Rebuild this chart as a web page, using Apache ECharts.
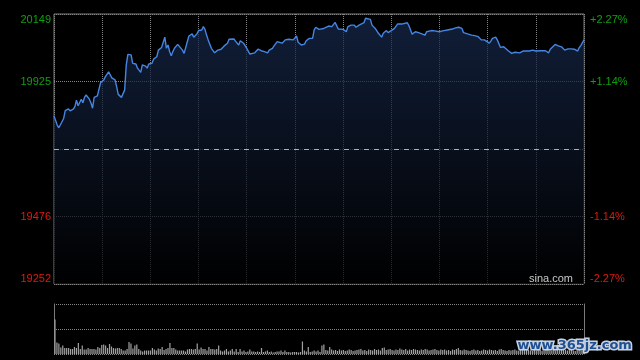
<!DOCTYPE html>
<html><head><meta charset="utf-8">
<script src="https://cdn.jsdelivr.net/npm/echarts@6/dist/echarts.min.js"></script>
<style>html,body{margin:0;padding:0;background:#000;}#c{width:640px;height:360px;}</style>
</head><body><div id="c"></div>
<script>
// minute of session (0..330) and index level
const minutes = [0,2,3,4,6,7,9,10,12,13,14,15,16,17,18,19,20,21,22,23,24,25,27,28,29,30,31,32,34,35,36,38,39,40,42,43,44,45,46,47,48,49,51,52,54,55,57,58,59,61,62,64,65,67,68,69,70,71,72,73,74,75,77,78,80,81,83,84,85,86,87,89,90,92,93,94,95,96,98,100,102,104,106,108,109,110,112,113,115,116,118,120,122,123,125,127,129,131,133,134,136,137,139,140,142,144,146,149,150,151,152,154,156,157,159,161,162,163,165,166,168,169,171,172,173,175,177,178,180,182,183,185,187,188,190,191,193,194,195,197,198,199,200,202,204,205,207,208,210,212,214,215,217,218,220,221,222,223,225,227,229,231,232,233,235,237,240,242,243,245,246,248,250,252,254,255,256,258,259,260,262,264,266,268,269,271,272,273,275,276,278,280,281,283,285,287,288,290,292,294,296,298,300,301,303,306,308,309,312,314,316,318,320,322,324,326,327,328,330];
const prices = [19810,19780,19771,19771,19802,19828,19834,19827,19833,19841,19863,19844,19847,19866,19854,19872,19880,19877,19866,19854,19836,19872,19877,19877,19921,19927,19930,19941,19957,19952,19937,19930,19908,19882,19872,19866,19897,19980,20015,20020,20013,19985,19983,19969,19955,19980,19976,19969,19983,19985,19999,20007,20029,20038,20038,20072,20035,20046,20024,20010,20024,20035,20048,20044,20029,20018,20057,20076,20079,20083,20072,20083,20094,20096,20107,20098,20079,20063,20035,20020,20029,20032,20043,20052,20065,20070,20066,20059,20046,20060,20052,20035,20016,20020,20020,20032,20027,20024,20020,20029,20035,20043,20057,20059,20052,20063,20065,20063,20068,20076,20055,20046,20049,20060,20068,20068,20096,20105,20098,20096,20101,20101,20109,20103,20107,20121,20099,20099,20098,20090,20107,20112,20112,20105,20112,20110,20120,20135,20138,20131,20112,20118,20101,20085,20072,20085,20094,20087,20094,20101,20116,20118,20116,20116,20120,20110,20105,20082,20090,20087,20083,20079,20090,20096,20094,20093,20090,20093,20096,20096,20090,20099,20103,20105,20101,20087,20082,20082,20085,20079,20077,20074,20063,20063,20060,20052,20059,20068,20072,20063,20038,20040,20035,20026,20018,20022,20020,20020,20026,20026,20026,20029,20026,20022,20027,20027,20020,20032,20048,20043,20040,20029,20033,20033,20032,20026,20037,20044,20063];
const volumes = [69,23,21,13,17,12,12,12,10,10,14,12,22,10,17,9,9,12,10,10,10,9,14,12,18,19,17,12,20,15,12,11,12,12,10,7,7,10,24,21,11,17,19,10,7,5,7,7,7,7,12,9,7,11,10,14,8,10,12,22,12,12,9,7,7,7,7,5,9,10,10,9,10,21,9,13,10,10,7,14,10,10,9,10,17,7,5,7,10,5,7,10,5,10,4,10,5,7,4,5,9,5,5,4,5,4,12,4,5,7,4,5,3,4,5,5,7,4,7,4,4,3,4,4,4,3,4,25,7,5,14,4,5,7,5,7,4,17,19,
 8,7,14,9,7,8,6,9,7,8,6,7,9,8,6,7,8,9,10,7,8,6,9,8,7,10,8,9,7,12,13,8,9,10,8,7,9,8,11,9,8,10,7,9,8,10,9,8,7,9,8,10,9,7,8,9,10,8,7,9,8,9,7,8,6,9,8,10,12,8,7,9,8,7,6,8,9,7,8,6,7,9,8,7,9,8,7,8,6,9,10,8,7,6,8,7,8,9,7,6,8,10,12,11,8,7,6,8,7,9,8,6,7,9,8,7,6,8,7,9,8,10,9,8,7,9,8,7,6,8,9,7,12];
const yMin = 19252, yMax = 20149, prevClose = 19700.5;
const leftLabels = ['19252','19476','','19925','20149'];
const rightLabels = ['-2.27%','-1.14%','','+1.14%','+2.27%'];
const xTickStep = 30, sessionLength = 330;

const GREEN = '#0fa00f', RED = '#e0190f';
const gridColor = '#858585', borderColor = '#7a7a7a';
const font = 'Liberation Sans, Arial, sans-serif';
const labelColor = (v) => (v > prevClose ? GREEN : RED);

const chart = echarts.init(document.getElementById('c'), null, {renderer: 'canvas'});
const yInterval = (yMax - yMin) / 4;
chart.setOption({
  backgroundColor: '#000',
  animation: false,
  grid: [
    {left: 54, right: 56, top: 14, bottom: 76, show: true, borderColor: borderColor, borderWidth: 1, backgroundColor: 'transparent'},
    {left: 54, right: 56, top: 304, height: 50}
  ],
  xAxis: [
    {type: 'value', gridIndex: 0, min: 0, max: sessionLength, interval: xTickStep,
     axisLine: {show: false}, axisTick: {show: false}, axisLabel: {show: false},
     splitLine: {show: true, lineStyle: {color: gridColor, type: [1, 1], width: 1}}},
    {type: 'category', gridIndex: 1, data: volumes.map((v, i) => i), boundaryGap: true,
     axisLine: {show: false}, axisTick: {show: false}, axisLabel: {show: false}, splitLine: {show: false}}
  ],
  yAxis: [
    {type: 'value', gridIndex: 0, min: yMin, max: yMax, interval: yInterval, position: 'left',
     axisLine: {show: false}, axisTick: {show: false},
     splitLine: {show: true, lineStyle: {color: gridColor, type: [1, 1], width: 1}},
     axisLabel: {margin: 3, fontSize: 11, fontFamily: font, color: labelColor,
       formatter: (v, i) => leftLabels[i], verticalAlignMaxLabel: 'top', verticalAlignMinLabel: 'bottom'}},
    {type: 'value', gridIndex: 0, min: yMin, max: yMax, interval: yInterval, position: 'right',
     axisLine: {show: false}, axisTick: {show: false}, splitLine: {show: false},
     axisLabel: {margin: 6, fontSize: 11, fontFamily: font, color: labelColor,
       formatter: (v, i) => rightLabels[i], verticalAlignMaxLabel: 'top', verticalAlignMinLabel: 'bottom'}},
    {type: 'value', gridIndex: 1, min: 0, max: 100, interval: 50, position: 'left',
     axisLine: {show: true, lineStyle: {color: borderColor}}, axisTick: {show: false}, axisLabel: {show: false},
     splitLine: {show: true, lineStyle: {color: gridColor, type: [1, 1], width: 1}}},
    {type: 'value', gridIndex: 1, min: 0, max: 100, interval: 50, position: 'right',
     axisLine: {show: true, lineStyle: {color: borderColor}}, axisTick: {show: false}, axisLabel: {show: false},
     splitLine: {show: false}}
  ],
  series: [
    {type: 'line', xAxisIndex: 0, yAxisIndex: 0, data: minutes.map((m, i) => [m, prices[i]]),
     showSymbol: false, symbol: 'none', smooth: false,
     lineStyle: {color: '#4585e4', width: 1.4},
     areaStyle: {origin: 'start', color: new echarts.graphic.LinearGradient(0, 0, 0, 1, [
       {offset: 0, color: '#182b50'}, {offset: 1, color: '#000000'}])},
     markLine: {silent: true, symbol: 'none', label: {show: false}, animation: false,
       lineStyle: {color: '#b0b0b0', type: [5, 5], width: 1},
       data: [{yAxis: prevClose}]}},
    {type: 'bar', xAxisIndex: 1, yAxisIndex: 2, data: volumes, barWidth: 1.2,
     itemStyle: {color: '#a2a2a2'}}
  ],
  graphic: [
    {type: 'text', right: 67, top: 273, z: 100, style: {text: 'sina.com', fill: '#c8c8c8', font: '11px ' + font}},
    {type: 'text', left: 516, top: 338, z: 100, style: {text: 'www.365jz.com', fill: '#1f4f93', stroke: '#c9d3e0', lineWidth: 3,
      font: 'bold 13px DejaVu Sans, sans-serif'}}
  ]
});
</script></body></html>
